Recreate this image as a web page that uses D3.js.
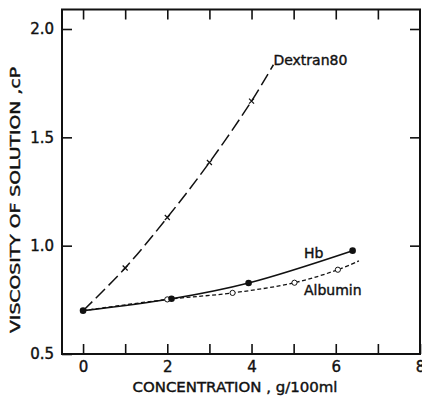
<!DOCTYPE html>
<html>
<head>
<meta charset="utf-8">
<script src="https://cdn.jsdelivr.net/npm/d3@7"></script>
<style>
	body { margin: 0; background: #fff; }
	text { font-family: "DejaVu Sans", sans-serif; fill: #111; stroke: #111; stroke-width: 0.4px; }
</style>
</head>
<body>
<div id="chart"></div>
<script>
// values
var dextranX = [0, 1, 2, 3, 4];
var dextranY = [0.70, 0.897, 1.13, 1.384, 1.667];
var dextranEnd = [4.52, 1.835];
var hbX = [0, 2.1, 3.93, 6.4];
var hbY = [0.70, 0.755, 0.828, 0.977];
var albX = [0, 2.0, 3.55, 5.02, 6.05];
var albY = [0.70, 0.752, 0.782, 0.829, 0.889];
var albEnd = [6.55, 0.93];
var xTicks = [0, 1, 2, 3, 4, 5, 6, 7, 8];
var xLabels = [0, 2, 4, 6, 8];
var yTicks = [0.5, 1.0, 1.5, 2.0];

var width = 422, height = 400;
var frame = {left: 62, right: 420, top: 9.5, bottom: 354};

var svg = d3.select("#chart").append("svg")
	.attr("width", width)
	.attr("height", height);

var x = d3.scaleLinear().domain([-0.5, 8]).range([frame.left, frame.right]);
var y = d3.scaleLinear().domain([0.5, 2.09]).range([frame.bottom, frame.top]);

// frame
svg.append("rect")
	.attr("x", frame.left).attr("y", frame.top)
	.attr("width", frame.right - frame.left)
	.attr("height", frame.bottom - frame.top)
	.attr("fill", "none").attr("stroke", "#111").attr("stroke-width", 2);

function styleAxis(g) {
	g.select(".domain").remove();
	g.selectAll(".tick line").attr("stroke", "#111").attr("stroke-width", 1.6);
	g.selectAll(".tick text").style("font-size", "15px").attr("fill", "#111");
}

// bottom axis, ticks inward
svg.append("g")
	.attr("transform", "translate(0," + frame.bottom + ")")
	.call(d3.axisBottom(x).tickValues(xTicks).tickSize(-10).tickPadding(7)
		.tickFormat(function(d) { return xLabels.indexOf(d) >= 0 ? d : ""; }))
	.call(styleAxis);

svg.append("g")
	.attr("transform", "translate(0," + frame.top + ")")
	.call(d3.axisTop(x).tickValues(xTicks.slice(0, 8)).tickSize(-10).tickFormat(""))
	.call(styleAxis);

svg.append("g")
	.attr("transform", "translate(" + frame.left + ",0)")
	.call(d3.axisLeft(y).tickValues(yTicks).tickSize(-10).tickPadding(8)
		.tickFormat(d3.format(".1f")))
	.call(styleAxis);

svg.append("g")
	.attr("transform", "translate(" + frame.right + ",0)")
	.call(d3.axisRight(y).tickValues(yTicks.slice(1)).tickSize(-10).tickFormat(""))
	.call(styleAxis);

// axis titles
svg.append("text")
	.attr("x", 235).attr("y", 392)
	.attr("text-anchor", "middle")
	.attr("textLength", 205).attr("lengthAdjust", "spacingAndGlyphs")
	.style("font-size", "14px")
	.text("CONCENTRATION , g/100ml");

svg.append("text")
	.attr("transform", "translate(20,200) rotate(-90)")
	.attr("text-anchor", "middle")
	.attr("textLength", 266).attr("lengthAdjust", "spacingAndGlyphs")
	.style("font-size", "14px")
	.text("VISCOSITY OF SOLUTION ,cP");

var line = d3.line()
	.x(function(d) { return x(d[0]); })
	.y(function(d) { return y(d[1]); })
	.curve(d3.curveCatmullRom);

var dextran = d3.zip(dextranX, dextranY);
var hb = d3.zip(hbX, hbY);
var alb = d3.zip(albX, albY);

svg.append("path")
	.datum(dextran.concat([dextranEnd]))
	.attr("d", line)
	.attr("fill", "none").attr("stroke", "#111").attr("stroke-width", 1.5)
	.attr("stroke-dasharray", "13,5");

svg.append("path")
	.datum(alb.concat([albEnd]))
	.attr("d", line)
	.attr("fill", "none").attr("stroke", "#111").attr("stroke-width", 1.3)
	.attr("stroke-dasharray", "4,2.5");

svg.append("path")
	.datum(hb)
	.attr("d", line)
	.attr("fill", "none").attr("stroke", "#111").attr("stroke-width", 1.6);

// markers
svg.selectAll(".dex").data(dextran.slice(1)).enter().append("path")
	.attr("class", "dex")
	.attr("transform", function(d) { return "translate(" + x(d[0]) + "," + y(d[1]) + ")"; })
	.attr("d", d3.symbol(d3.symbolX, 18))
	.attr("fill", "none").attr("stroke", "#111").attr("stroke-width", 1.2);

svg.selectAll(".alb").data(alb.slice(1)).enter().append("circle")
	.attr("class", "alb")
	.attr("cx", function(d) { return x(d[0]); })
	.attr("cy", function(d) { return y(d[1]); })
	.attr("r", 2.6)
	.attr("fill", "#fff").attr("stroke", "#111").attr("stroke-width", 1);

svg.selectAll(".hb").data(hb).enter().append("circle")
	.attr("class", "hb")
	.attr("cx", function(d) { return x(d[0]); })
	.attr("cy", function(d) { return y(d[1]); })
	.attr("r", 3.3)
	.attr("fill", "#111");

// series labels
svg.append("text").attr("x", x(dextranEnd[0])).attr("y", 65)
	.style("font-size", "14px").text("Dextran80");
svg.append("text").attr("x", 304).attr("y", 258)
	.style("font-size", "14px").text("Hb");
svg.append("text").attr("x", 304).attr("y", 295)
	.style("font-size", "14px").text("Albumin");
</script>
</body>
</html>
